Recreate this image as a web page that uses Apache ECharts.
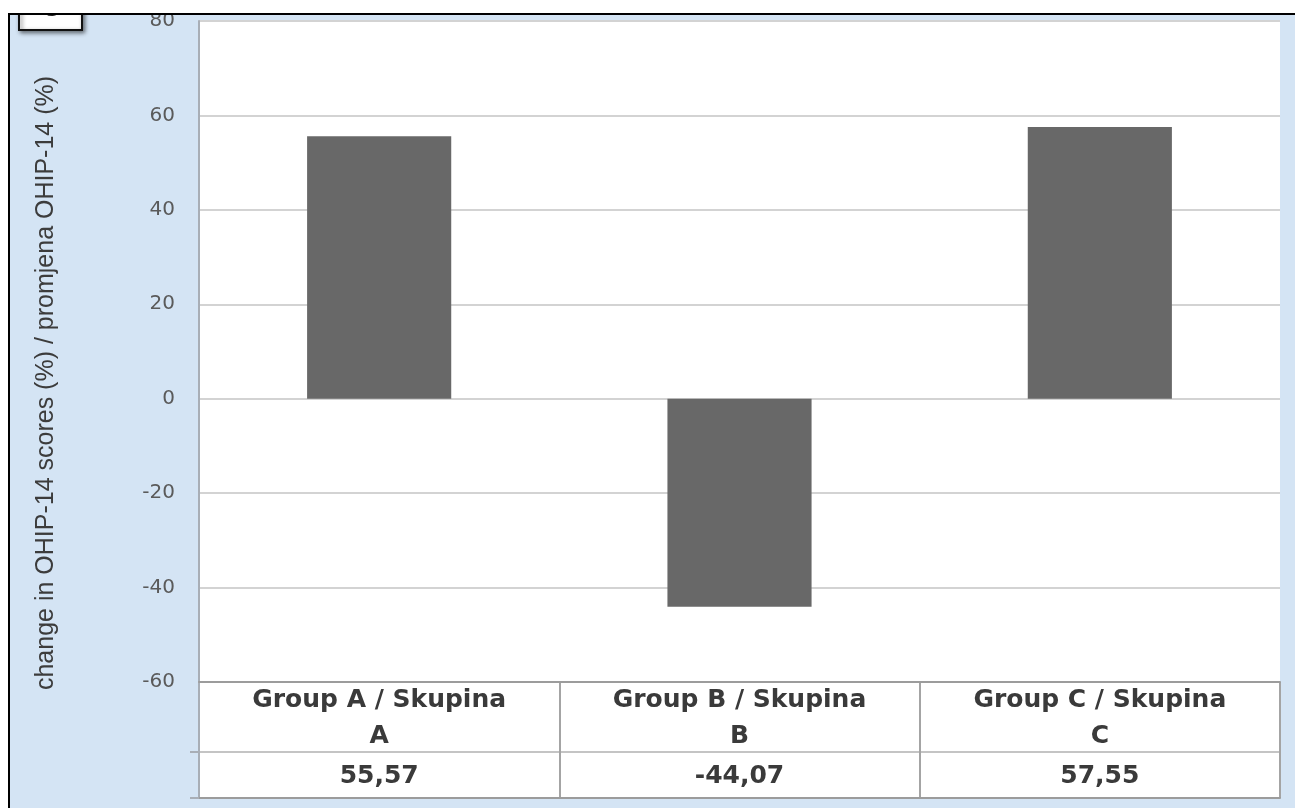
<!DOCTYPE html>
<html>
<head>
<meta charset="utf-8">
<script src="https://cdn.jsdelivr.net/npm/echarts@6/dist/echarts.min.js"></script>
<style>
html,body{margin:0;padding:0;background:#fff;}
#chart{width:1295px;height:808px;}
</style>
</head>
<body>
<div id="chart"></div>
<script>
// ---- data ----
const categories = ['Group A / Skupina\nA', 'Group B / Skupina\nB', 'Group C / Skupina\nC'];
const values = [55.57, -44.07, 57.55];
const valueLabels = ['55,57', '-44,07', '57,55'];
const yAxisTitle = 'change in OHIP-14 scores (%) / promjena OHIP-14 (%)';
const panelLetter = 'C';
const yMin = -60, yMax = 80, yStep = 20;

// ---- chart ----
const chart = echarts.init(document.getElementById('chart'), null, {renderer: 'canvas'});
const option = {
  backgroundColor: '#d4e4f4',
  animation: false,
  grid: [
    {left: 199, right: 15, top: 21, bottom: 126, show: true, backgroundColor: '#ffffff', borderWidth: 0},
    {left: 199, right: 15, top: 682, bottom: 10, show: true, backgroundColor: '#ffffff', borderWidth: 0}
  ],
  xAxis: [
    {
      type: 'category', gridIndex: 0, data: categories,
      axisLine: {show: true, onZero: false, lineStyle: {color: '#9c9c9c', width: 2}},
      axisTick: {show: false},
      splitLine: {show: false},
      axisLabel: {
        margin: 0,
        interval: 0,
        formatter: function (v, i) { return '{n|' + v + '}\n{v|' + valueLabels[i] + '}'; },
        rich: {
          n: {fontFamily: 'DejaVu Sans', fontWeight: 'bold', fontSize: 25, color: '#3a3a3a', lineHeight: 36, align: 'center'},
          v: {fontFamily: 'DejaVu Sans', fontWeight: 'bold', fontSize: 25, color: '#3a3a3a', lineHeight: 44, align: 'center'}
        }
      }
    },
    {
      type: 'category', gridIndex: 1, data: categories,
      axisLine: {show: true, lineStyle: {color: '#9c9c9c', width: 2}},
      axisTick: {show: false},
      axisLabel: {show: false},
      splitLine: {show: true, lineStyle: {color: '#a4a4a4', width: 2}}
    }
  ],
  yAxis: [
    {
      type: 'value', gridIndex: 0, min: yMin, max: yMax, interval: yStep,
      axisLine: {show: true, lineStyle: {color: '#a8aeb6', width: 2}},
      axisTick: {show: false},
      axisLabel: {margin: 24, fontFamily: 'DejaVu Sans', fontSize: 20, color: '#5a5a5a'},
      splitLine: {show: true, lineStyle: {color: '#d3d3d3', width: 2}}
    },
    {
      type: 'value', gridIndex: 1, min: 0, max: 116,
      axisLine: {show: true, lineStyle: {color: '#a8aeb6', width: 2}},
      axisTick: {show: true, length: 9, customValues: [0, 46], lineStyle: {color: '#a8aeb6', width: 2}},
      axisLabel: {show: false},
      splitLine: {show: true, lineStyle: {color: '#c4c4c4', width: 2}}
    }
  ],
  series: [
    {
      type: 'bar', xAxisIndex: 0, yAxisIndex: 0, data: values,
      barWidth: '40%',
      itemStyle: {color: '#686868'}
    }
  ],
  graphic: [
    {
      type: 'text', x: 46, y: 383, rotation: Math.PI / 2, z: 10,
      style: {text: yAxisTitle, fontFamily: 'Liberation Sans', fontSize: 25, fill: '#3c3c3c', align: 'center', verticalAlign: 'middle'}
    },
    {
      type: 'rect', z: 20, shape: {x: 19, y: 8, width: 63, height: 22},
      style: {fill: '#ffffff', stroke: '#111', lineWidth: 2, shadowBlur: 4, shadowOffsetX: 2, shadowOffsetY: 2, shadowColor: 'rgba(0,0,0,0.5)'}
    },
    {
      type: 'text', z: 21, x: 50, y: 21,
      style: {text: panelLetter, fontFamily: 'DejaVu Sans', fontWeight: 'bold', fontSize: 20, fill: '#222', align: 'center', verticalAlign: 'bottom'}
    },
    {
      type: 'rect', z: 30, shape: {x: 0, y: 0, width: 1295, height: 13},
      style: {fill: '#ffffff'}
    },
    {
      type: 'rect', z: 30, shape: {x: 0, y: 0, width: 8, height: 808},
      style: {fill: '#ffffff'}
    },
    {
      type: 'line', z: 31, shape: {x1: 8, y1: 14, x2: 1295, y2: 14},
      style: {stroke: '#000', lineWidth: 2}
    },
    {
      type: 'line', z: 31, shape: {x1: 9, y1: 13, x2: 9, y2: 808},
      style: {stroke: '#000', lineWidth: 2}
    }
  ]
};
chart.setOption(option);
</script>
</body>
</html>
